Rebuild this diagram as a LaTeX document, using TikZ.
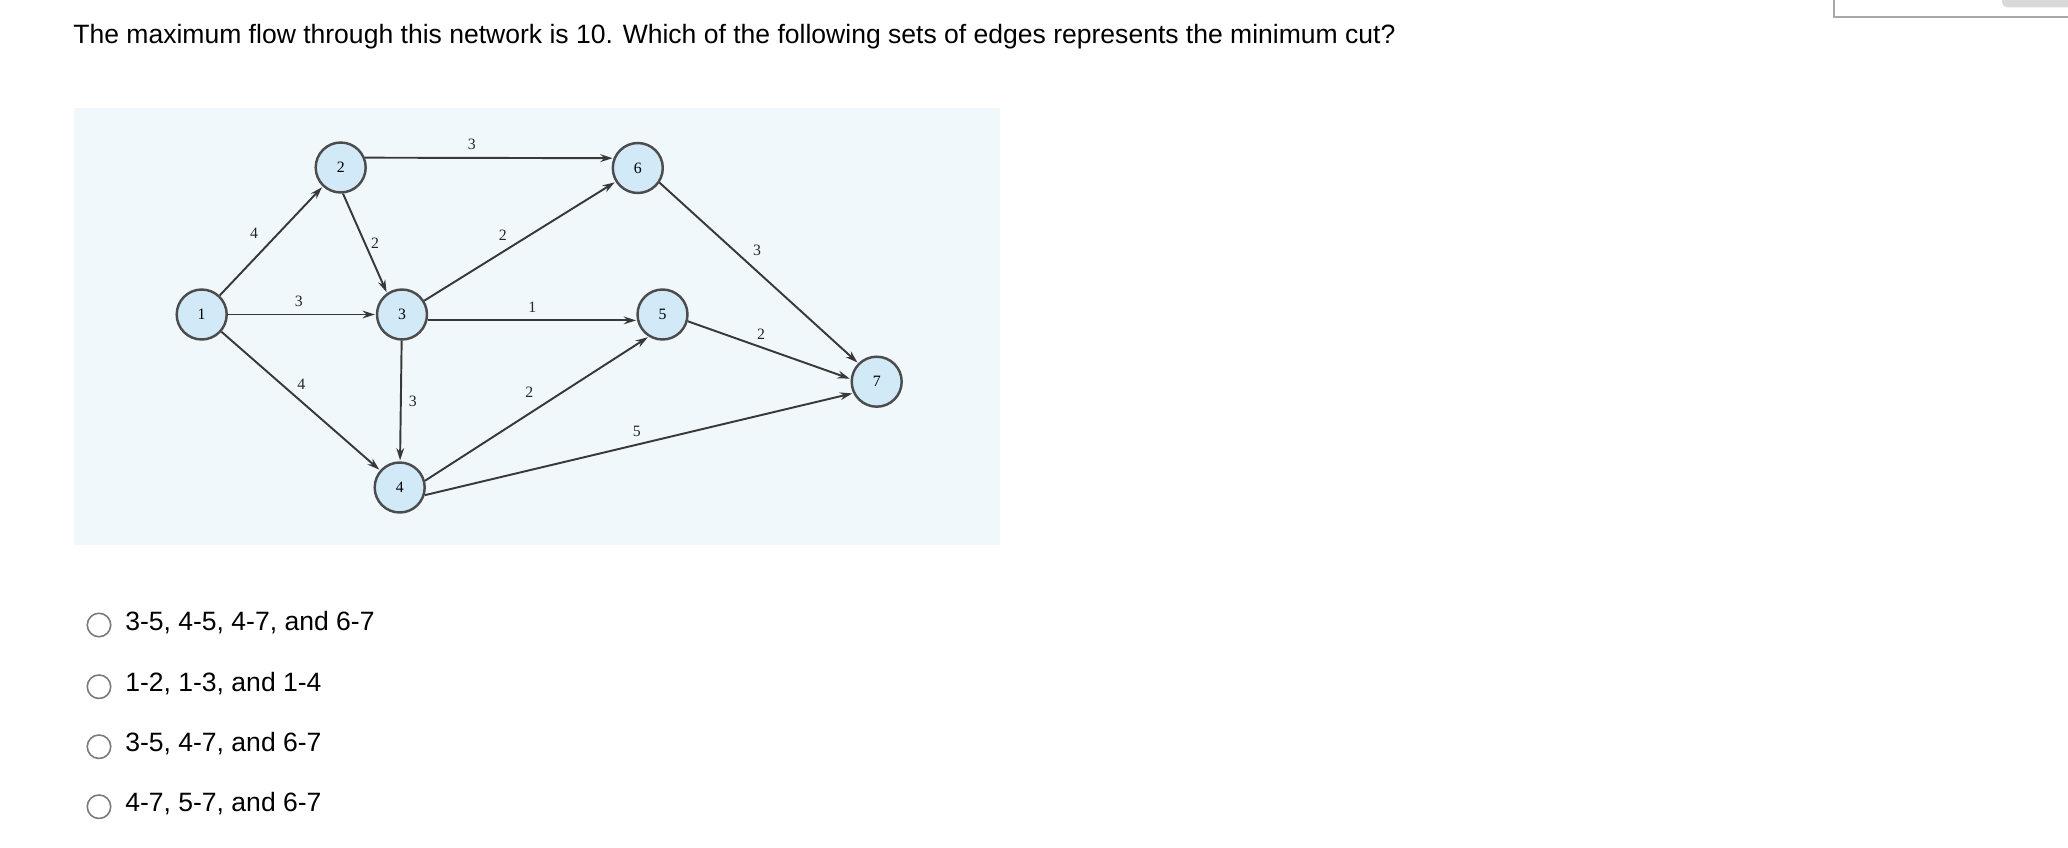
\documentclass[tikz,border=0pt]{standalone}
\usepackage{fontspec}
\setmainfont{Liberation Sans}
\newfontfamily\graphfont{Liberation Serif}
\usetikzlibrary{arrows.meta}

\definecolor{panelbg}{HTML}{F1F8FC}
\definecolor{nodefill}{HTML}{D2E9F8}
\definecolor{edgegray}{HTML}{383838}
\definecolor{ringgray}{HTML}{4C4C4C}
\definecolor{radiogray}{HTML}{7A7A7A}
\definecolor{boxgray}{HTML}{A8A8A8}
\definecolor{tabgray}{HTML}{D9D9D9}

\begin{document}
\begin{tikzpicture}[x=0.02cm,y=-0.02cm,->,>={Stealth[length=7pt,width=4.4pt]},shorten >=0.5pt,
  every edge/.append style={draw=edgegray,line width=1.1pt},
  main node/.style={circle,draw=ringgray,fill=nodefill,line width=1.4pt,minimum size=1.0cm,inner sep=0pt,font=\graphfont\fontsize{9}{10}\selectfont},
  weight/.style={font=\graphfont\fontsize{9}{10}\selectfont,text=black!85,inner sep=4pt},
  radio/.style={circle,draw=radiogray,line width=0.9pt,minimum size=0.47cm,inner sep=0pt},
  choice/.style={anchor=base west,inner sep=0pt,font=\fontsize{15.1}{18}\selectfont}]
  \useasboundingbox (0,0) rectangle (2068,848);

  % top right corner box
  \draw[-,boxgray,line width=0.95pt] (1834,-10) rectangle (2080,16.7);
  \fill[tabgray,rounded corners=3pt] (2002,-10) rectangle (2080,7.3);

  \node[choice] (question) at (73,43.3) {The maximum flow through this network is 10. Which of the following sets of edges represents the minimum cut?};

  % network panel
  \fill[panelbg] (74,108) rectangle (1000,545);

  \node[main node] (1) at (201.7,314.5) {1};
  \node[main node] (2) at (340.7,167.5) {2};
  \node[main node] (3) at (402,314.5) {3};
  \node[main node] (4) at (399.7,487.5) {4};
  \node[main node] (5) at (662.5,314.5) {5};
  \node[main node] (6) at (637.8,168) {6};
  \node[main node] (7) at (876.7,381.7) {7};

  \path[every node/.style={weight}]
    (1) edge node[pos=0.45,above left] {4} (2)
        edge node[pos=0.48,above] {3} (3)
        edge node[pos=0.45,above right,inner sep=2pt] {4} (4)
    (2.22) edge node[pos=0.43,above] {3} (6.158)
    (2.-85) edge node[pos=0.5,right,inner sep=3pt] {2} (3.125)
    (3) edge node[pos=0.46,above left,inner sep=2.5pt] {2} (6)
        edge node[pos=0.5,right] {3} (4)
    (3.-13) edge node[pos=0.5,above] {1} (5.193)
    (4.15) edge node[pos=0.52,above left] {2} (5.238)
    (4.-17) edge node[pos=0.495,above] {5} (7.206)
    (5.-15) edge node[pos=0.45,above] {2} (7.174)
    (6.-34) edge node[pos=0.44,above right,inner sep=3pt] {3} (7.135);

  % answer choices
  \node[radio] (r1) at (99,625) {};
  \node[radio] (r2) at (99,686.7) {};
  \node[radio] (r3) at (99,746.7) {};
  \node[radio] (r4) at (99,806.7) {};
  \node[choice] (c1) at (125,630.7) {3-5, 4-5, 4-7, and 6-7};
  \node[choice] (c2) at (125,691.7) {1-2, 1-3, and 1-4};
  \node[choice] (c3) at (125,751.7) {3-5, 4-7, and 6-7};
  \node[choice] (c4) at (125,811.7) {4-7, 5-7, and 6-7};
\end{tikzpicture}
\end{document}
